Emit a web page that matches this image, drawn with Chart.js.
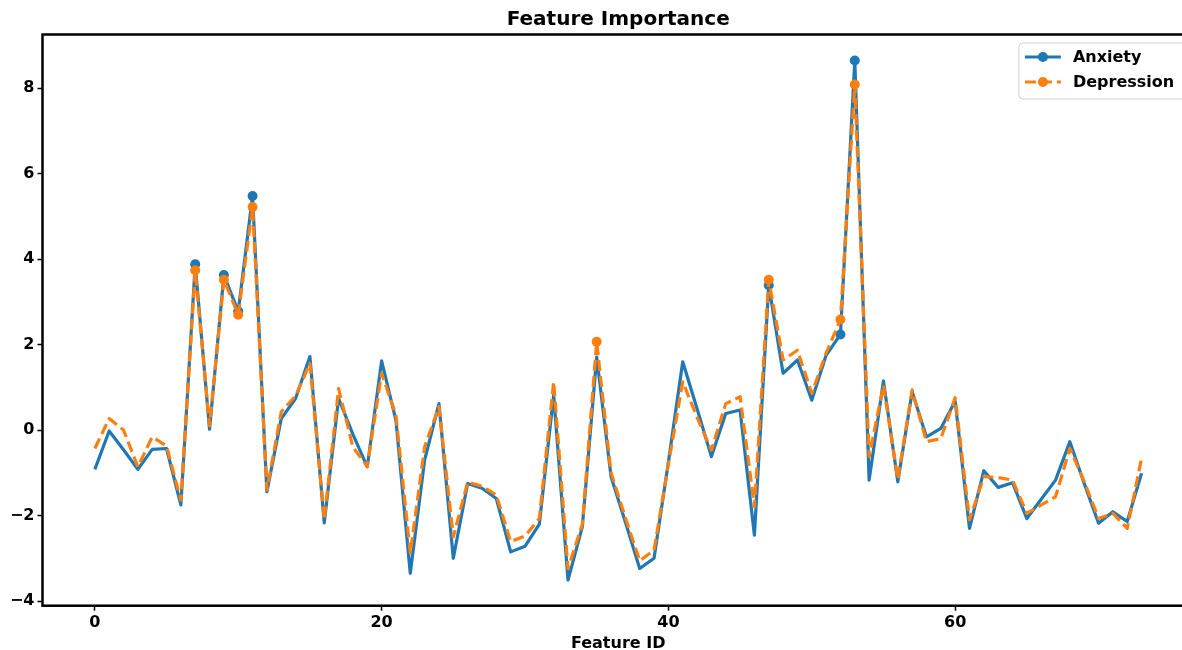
<!DOCTYPE html>
<html>
<head>
<meta charset="utf-8">
<script src="https://cdn.jsdelivr.net/npm/chart.js@4.4.1/dist/chart.umd.min.js"></script>
<style>
  html, body { margin: 0; padding: 0; overflow: hidden; background: #fff; }
  #wrap { width: 1200px; height: 650px; }
</style>
</head>
<body>
<div id="wrap"><canvas id="c" width="1200" height="650" style="width:1200px;height:650px"></canvas></div>
<script>
const featureIds = Array.from({length: 74}, (_, i) => i);
const anxiety = [
  -0.92, -0.02, -0.46, -0.92, -0.45, -0.43, -1.75, 3.88, 0.02, 3.63,
  2.78, 5.48, -1.44, 0.27, 0.74, 1.72, -2.17, 0.74, -0.10, -0.86,
  1.62, 0.23, -3.35, -0.70, 0.62, -3.00, -1.25, -1.36, -1.60, -2.85,
  -2.72, -2.20, 0.82, -3.51, -2.26, 1.71, -1.09, -2.15, -3.24, -3.00,
  -0.75, 1.60, 0.50, -0.62, 0.39, 0.47, -2.46, 3.39, 1.33, 1.64,
  0.70, 1.75, 2.24, 8.65, -1.17, 1.15, -1.21, 0.90, -0.16, 0.04,
  0.68, -2.30, -0.95, -1.34, -1.23, -2.07, -1.62, -1.17, -0.27, -1.25,
  -2.18, -1.91, -2.14, -1.01
];
const depression = [
  -0.43, 0.27, 0.00, -0.86, -0.16, -0.37, -1.64, 3.74, 0.10, 3.52,
  2.70, 5.22, -1.40, 0.43, 0.80, 1.56, -2.10, 0.97, -0.40, -0.85,
  1.33, 0.35, -2.88, -0.39, 0.55, -2.50, -1.22, -1.31, -1.52, -2.61,
  -2.48, -2.07, 1.13, -3.24, -2.20, 2.07, -1.00, -2.05, -3.06, -2.81,
  -0.80, 1.13, 0.30, -0.47, 0.62, 0.78, -1.79, 3.52, 1.64, 1.87,
  0.86, 1.80, 2.59, 8.09, -0.62, 1.05, -1.15, 0.94, -0.27, -0.20,
  0.76, -2.10, -1.09, -1.11, -1.17, -1.95, -1.75, -1.56, -0.43, -1.20,
  -2.07, -1.95, -2.30, -0.66
];
const seriesNames = ['Anxiety', 'Depression'];
const xTicks = [0, 20, 40, 60];
const yTicks = [-4, -2, 0, 2, 4, 6, 8];
const markerThreshold = 2;

const BLUE = '#1f77b4', ORANGE = '#ff7f0e';
const FONT = '"DejaVu Sans", sans-serif';

function fmt(v) { return v < 0 ? '\u2212' + Math.abs(v) : String(v); }
function toPts(arr) { return featureIds.map((id, i) => ({x: id, y: arr[i]})); }
const markerRadius = (ctx) => (ctx.raw && ctx.raw.y > markerThreshold) ? 5 : 0;

const framePlugin = {
  id: 'frame',
  afterDatasetsDraw(chart) {
    const {ctx, chartArea: a} = chart;
    ctx.save();
    ctx.strokeStyle = '#000';
    ctx.lineWidth = 2.5;
    ctx.strokeRect(a.left, a.top, a.right - a.left, a.bottom - a.top);
    ctx.restore();
  }
};

const legendPlugin = {
  id: 'innerLegend',
  afterDraw(chart) {
    const {ctx, chartArea: a} = chart;
    const bx = a.right - 175, by = a.top + 8.5, bw = 168, bh = 56, r = 4;
    ctx.save();
    ctx.beginPath();
    ctx.moveTo(bx + r, by);
    ctx.lineTo(bx + bw - r, by);
    ctx.quadraticCurveTo(bx + bw, by, bx + bw, by + r);
    ctx.lineTo(bx + bw, by + bh - r);
    ctx.quadraticCurveTo(bx + bw, by + bh, bx + bw - r, by + bh);
    ctx.lineTo(bx + r, by + bh);
    ctx.quadraticCurveTo(bx, by + bh, bx, by + bh - r);
    ctx.lineTo(bx, by + r);
    ctx.quadraticCurveTo(bx, by, bx + r, by);
    ctx.closePath();
    ctx.fillStyle = 'rgba(255,255,255,0.8)';
    ctx.fill();
    ctx.strokeStyle = '#d0d0d0';
    ctx.lineWidth = 1;
    ctx.stroke();

    const rows = [
      {name: seriesNames[0], color: BLUE, dash: []},
      {name: seriesNames[1], color: ORANGE, dash: [11, 5]}
    ];
    rows.forEach((row, k) => {
      const y = by + 14 + k * 25;
      const x1 = bx + 6, x2 = bx + 42;
      ctx.beginPath();
      ctx.setLineDash(row.dash);
      ctx.strokeStyle = row.color;
      ctx.lineWidth = 3.2;
      ctx.moveTo(x1, y); ctx.lineTo(x2, y);
      ctx.stroke();
      ctx.setLineDash([]);
      ctx.beginPath();
      ctx.fillStyle = row.color;
      ctx.arc((x1 + x2) / 2, y, 5, 0, Math.PI * 2);
      ctx.fill();
      ctx.fillStyle = '#000';
      ctx.font = 'bold 16px ' + FONT;
      ctx.textAlign = 'left';
      ctx.textBaseline = 'middle';
      ctx.fillText(row.name, bx + 54, y + 1);
    });
    ctx.restore();
  }
};

new Chart(document.getElementById('c'), {
  type: 'line',
  data: {
    datasets: [
      {
        label: seriesNames[0],
        data: toPts(anxiety),
        borderColor: BLUE,
        backgroundColor: BLUE,
        borderWidth: 3.2,
        borderJoinStyle: 'round',
        pointRadius: markerRadius,
        pointHoverRadius: markerRadius,
        pointBorderWidth: 0,
        tension: 0,
        fill: false,
        order: 2
      },
      {
        label: seriesNames[1],
        data: toPts(depression),
        borderColor: ORANGE,
        backgroundColor: ORANGE,
        borderWidth: 3.2,
        borderDash: [11, 5],
        borderJoinStyle: 'round',
        pointRadius: markerRadius,
        pointHoverRadius: markerRadius,
        pointBorderWidth: 0,
        tension: 0,
        fill: false,
        order: 1
      }
    ]
  },
  options: {
    responsive: false,
    animation: false,
    devicePixelRatio: 1,
    layout: { padding: { left: 0, right: 6.1, top: 0, bottom: 0 } },
    plugins: {
      legend: { display: false },
      tooltip: { enabled: false },
      title: {
        display: true,
        text: 'Feature Importance',
        fullSize: false,
        color: '#000',
        font: { family: FONT, size: 20, weight: 'bold', lineHeight: 1.2 },
        padding: { top: 8, bottom: 2.5 }
      }
    },
    scales: {
      x: {
        type: 'linear',
        min: -3.65,
        max: 76.65,
        afterBuildTicks: (s) => { s.ticks = xTicks.map(v => ({value: v})); },
        afterFit: (s) => { s.height = 44.3; },
        border: { display: false },
        grid: { display: true, drawOnChartArea: false, drawTicks: true, tickLength: 5, tickColor: '#000', tickWidth: 1.5 },
        ticks: {
          color: '#000', padding: 4, maxRotation: 0,
          font: { family: FONT, size: 16, weight: 'bold', lineHeight: 1 },
          callback: (v) => fmt(v)
        },
        title: {
          display: true, text: 'Feature ID', color: '#000',
          font: { family: FONT, size: 16, weight: 'bold', lineHeight: 0.8 },
          padding: { top: 0, bottom: 0 }
        }
      },
      y: {
        type: 'linear',
        min: -4.11,
        max: 9.26,
        afterBuildTicks: (s) => { s.ticks = yTicks.map(v => ({value: v})); },
        afterFit: (s) => { s.width = 42.5; },
        border: { display: false },
        grid: { display: true, drawOnChartArea: false, drawTicks: true, tickLength: 5, tickColor: '#000', tickWidth: 1.5 },
        ticks: {
          color: '#000', padding: 3,
          font: { family: FONT, size: 16, weight: 'bold', lineHeight: 1 },
          callback: (v) => fmt(v)
        }
      }
    }
  },
  plugins: [framePlugin, legendPlugin]
});
</script>
</body>
</html>
